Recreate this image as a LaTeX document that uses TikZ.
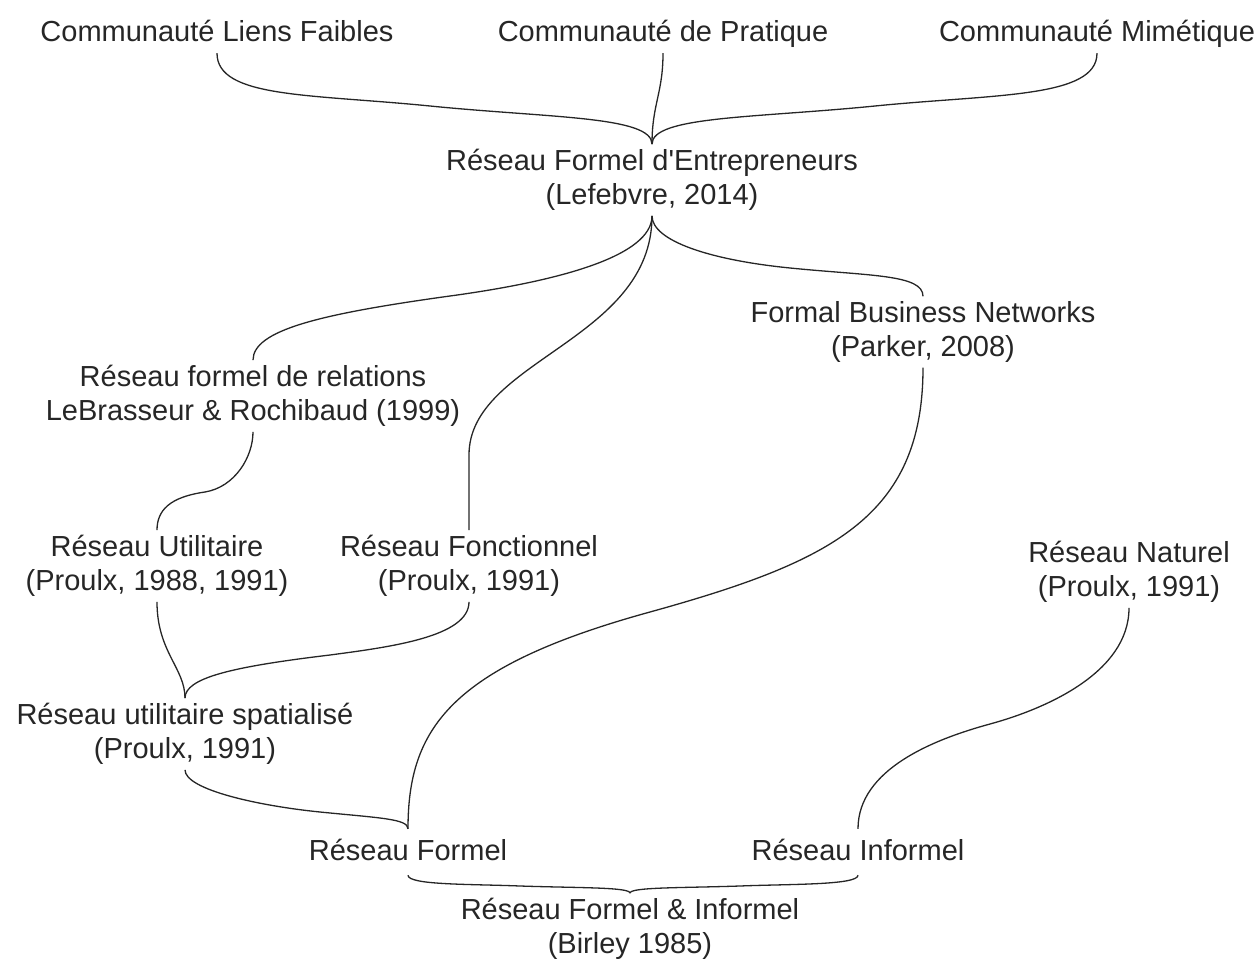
\documentclass[tikz,border=0pt]{standalone}
\usepackage{fontspec}
\setmainfont{Liberation Sans}
\begin{document}
\begin{tikzpicture}[x=1pt,y=-1pt,
  lbl/.style={align=center,inner xsep=3pt,inner ysep=5pt,font=\fontsize{29}{34}\selectfont,text=black!85},
  one/.style={lbl,text height=22pt,text depth=6pt},
  link/.style={line width=1.3pt,black!85}]
\useasboundingbox (0,0) rectangle (1258,960);
\node[one] (c1) at (217,34) {Communauté Liens Faibles};
\node[one] (c2) at (663,34) {Communauté de Pratique};
\node[one] (c3) at (1097,34) {Communauté Mimétique};
\node[lbl] (lef) at (652,180) {Réseau Formel d\textquotesingle Entrepreneurs\\(Lefebvre, 2014)};
\node[lbl] (fbn) at (923,332) {Formal Business Networks\\(Parker, 2008)};
\node[lbl] (rfr) at (253,396) {Réseau formel de relations\\LeBrasseur \& Rochibaud (1999)};
\node[lbl] (util) at (157,566) {Réseau Utilitaire\\(Proulx, 1988, 1991)};
\node[lbl] (fonc) at (469,566) {Réseau Fonctionnel\\(Proulx, 1991)};
\node[lbl] (nat) at (1129,572) {Réseau Naturel\\(Proulx, 1991)};
\node[lbl] (spat) at (185,734) {Réseau utilitaire spatialisé\\(Proulx, 1991)};
\node[one,inner ysep=9pt] (formel) at (408,852) {Réseau Formel};
\node[one,inner ysep=9pt] (inf) at (858,852) {Réseau Informel};
\node[lbl] (bir) at (630,929) {Réseau Formel \& Informel\\(Birley 1985)};

% top brace
\draw[link] (c1.south) .. controls +(0,45) and +(-120,-12) .. (430,106) .. controls +(120,12) and +(0,-28) .. (lef.north);
\draw[link] (c3.south) .. controls +(0,45) and +(120,-12) .. (875,106) .. controls +(-120,12) and +(0,-28) .. (lef.north);
\draw[link] (c2.south) .. controls +(0,40) and +(0,-40) .. (lef.north);
% from Lefebvre
\draw[link] (lef.south) .. controls +(0,40) and +(110,-15) .. (450,296) .. controls +(-130,18) and +(0,-30) .. (rfr.north);
\draw[link] (lef.south) .. controls +(0,25) and +(-80,-8) .. (790,268) .. controls +(80,8) and +(0,-22) .. (fbn.north);
\draw[link] (lef.south) .. controls +(0,125) and +(0,-95) .. (469,455) -- (fonc.north);
% relations -> utilitaire
\draw[link] (rfr.south) .. controls +(0,25) and +(30,-5) .. (205,492) .. controls +(-35,5) and +(0,-20) .. (util.north);
% utilitaire, fonctionnel -> spatialise
\draw[link] (util.south) .. controls +(0,50) and +(0,-30) .. (spat.north);
\draw[link] (fonc.south) .. controls +(0,35) and +(60,-8) .. (330,655) .. controls +(-100,12) and +(0,-20) .. (spat.north);
% spatialise, parker -> formel
\draw[link] (spat.south) .. controls +(0,20) and +(-60,-6) .. (320,812) .. controls +(60,6) and +(0,-10) .. (formel.north);
\draw[link] (fbn.south) .. controls +(0,150) and +(180,-50) .. (650,612) .. controls +(-200,55) and +(0,-100) .. (formel.north);
% naturel -> informel
\draw[link] (nat.south) .. controls +(0,65) and +(55,-15) .. (990,724) .. controls +(-55,15) and +(0,-60) .. (inf.north);
% bottom brace
\draw[link] (formel.south) .. controls +(0,10) and +(-50,-2) .. (520,886) .. controls +(60,2) and +(0,-6) .. (bir.north);
\draw[link] (inf.south) .. controls +(0,10) and +(50,-2) .. (740,886) .. controls +(-60,2) and +(0,-6) .. (bir.north);
\end{tikzpicture}
\end{document}
